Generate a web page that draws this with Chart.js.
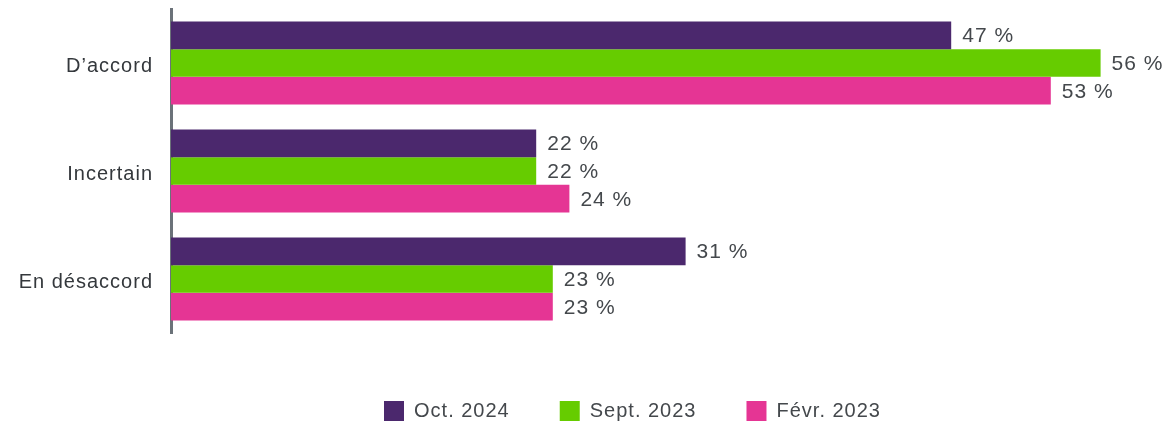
<!DOCTYPE html>
<html lang="fr">
<head>
    <meta charset="UTF-8">
    <title>D’accord / Incertain / En désaccord</title>
    <style>
        html, body { margin: 0; padding: 0; background: #fff; overflow: hidden; }
        .wrap { position: relative; width: 1170px; height: 431px; }
    </style>
</head>
<body>
    <div class="wrap">
        <canvas id="myChart" role="img" aria-label="Graphique à barres horizontales"></canvas>
    </div>

    <script src="https://cdn.jsdelivr.net/npm/chart.js@4.4.1/dist/chart.umd.min.js"></script>
    <script>
        // data
        var categories = ['D’accord', 'Incertain', 'En désaccord'];
        var seriesNames = ['Oct. 2024', 'Sept. 2023', 'Févr. 2023'];
        var oct2024 = [47, 22, 31];
        var sept2023 = [56, 22, 23];
        var fevr2023 = [53, 24, 23];
        var colors = ['#4b286d', '#66cc00', '#e53594'];

        var FONT = "'Liberation Sans', Arial, sans-serif";

        // the source font is set a bit wider, so add a little letter spacing
        var spacingPlugin = {
            id: 'spacing',
            beforeLayout: function (chart) { chart.ctx.letterSpacing = '1px'; },
            beforeDraw: function (chart) { chart.ctx.letterSpacing = '1px'; }
        };

        // legend in the reference sits a bit right of the canvas centre
        var legendShift = {
            id: 'legendShift',
            afterLayout: function (chart) {
                chart.legend.left += 49;
                chart.legend.right += 49;
            }
        };

        // value labels at the end of each bar
        var valueLabels = {
            id: 'valueLabels',
            afterDatasetsDraw: function (chart) {
                var ctx = chart.ctx;
                ctx.save();
                ctx.letterSpacing = '1px';
                ctx.font = '21px ' + FONT;
                ctx.fillStyle = '#44484c';
                ctx.textAlign = 'left';
                ctx.textBaseline = 'middle';
                chart.data.datasets.forEach(function (ds, i) {
                    chart.getDatasetMeta(i).data.forEach(function (bar, j) {
                        ctx.fillText(ds.data[j] + ' %', bar.x + 11, bar.y + 1);
                    });
                });
                ctx.restore();
            }
        };

        var ctx = document.getElementById('myChart').getContext('2d');
        var myChart = new Chart(ctx, {
            type: 'bar',
            data: {
                labels: categories,
                datasets: [
                    { label: seriesNames[0], data: oct2024, backgroundColor: colors[0] },
                    { label: seriesNames[1], data: sept2023, backgroundColor: colors[1] },
                    { label: seriesNames[2], data: fevr2023, backgroundColor: colors[2] }
                ]
            },
            options: {
                indexAxis: 'y',
                responsive: true,
                maintainAspectRatio: false,
                animation: false,
                datasets: {
                    bar: { categoryPercentage: 0.77, barPercentage: 1, borderWidth: 0 }
                },
                layout: { padding: { left: 0, top: 9, right: 3, bottom: 0 } },
                scales: {
                    x: {
                        min: 0,
                        max: 60,
                        grid: { display: false, drawTicks: false },
                        border: { display: false },
                        ticks: { display: false },
                        // empty title only used as a spacer above the legend
                        title: { display: true, text: '', font: { size: 1, lineHeight: 1 }, padding: { top: 0, bottom: 17 } }
                    },
                    y: {
                        grid: { display: false, drawTicks: false },
                        border: { display: true, color: '#6b7279', width: 3 },
                        ticks: { padding: 18, labelOffset: 3, color: '#34383c', font: { family: FONT, size: 20 } },
                        afterFit: function (scale) {
                            scale.width = 171;
                            scale.paddingTop = 0;
                            scale.paddingBottom = 0;
                        }
                    }
                },
                plugins: {
                    tooltip: { enabled: false },
                    legend: {
                        position: 'bottom',
                        labels: {
                            boxWidth: 20,
                            boxHeight: 20,
                            padding: 50,
                            color: '#44484c',
                            font: { family: FONT, size: 20 }
                        }
                    }
                }
            },
            plugins: [spacingPlugin, legendShift, valueLabels]
        });
    </script>
</body>
</html>
